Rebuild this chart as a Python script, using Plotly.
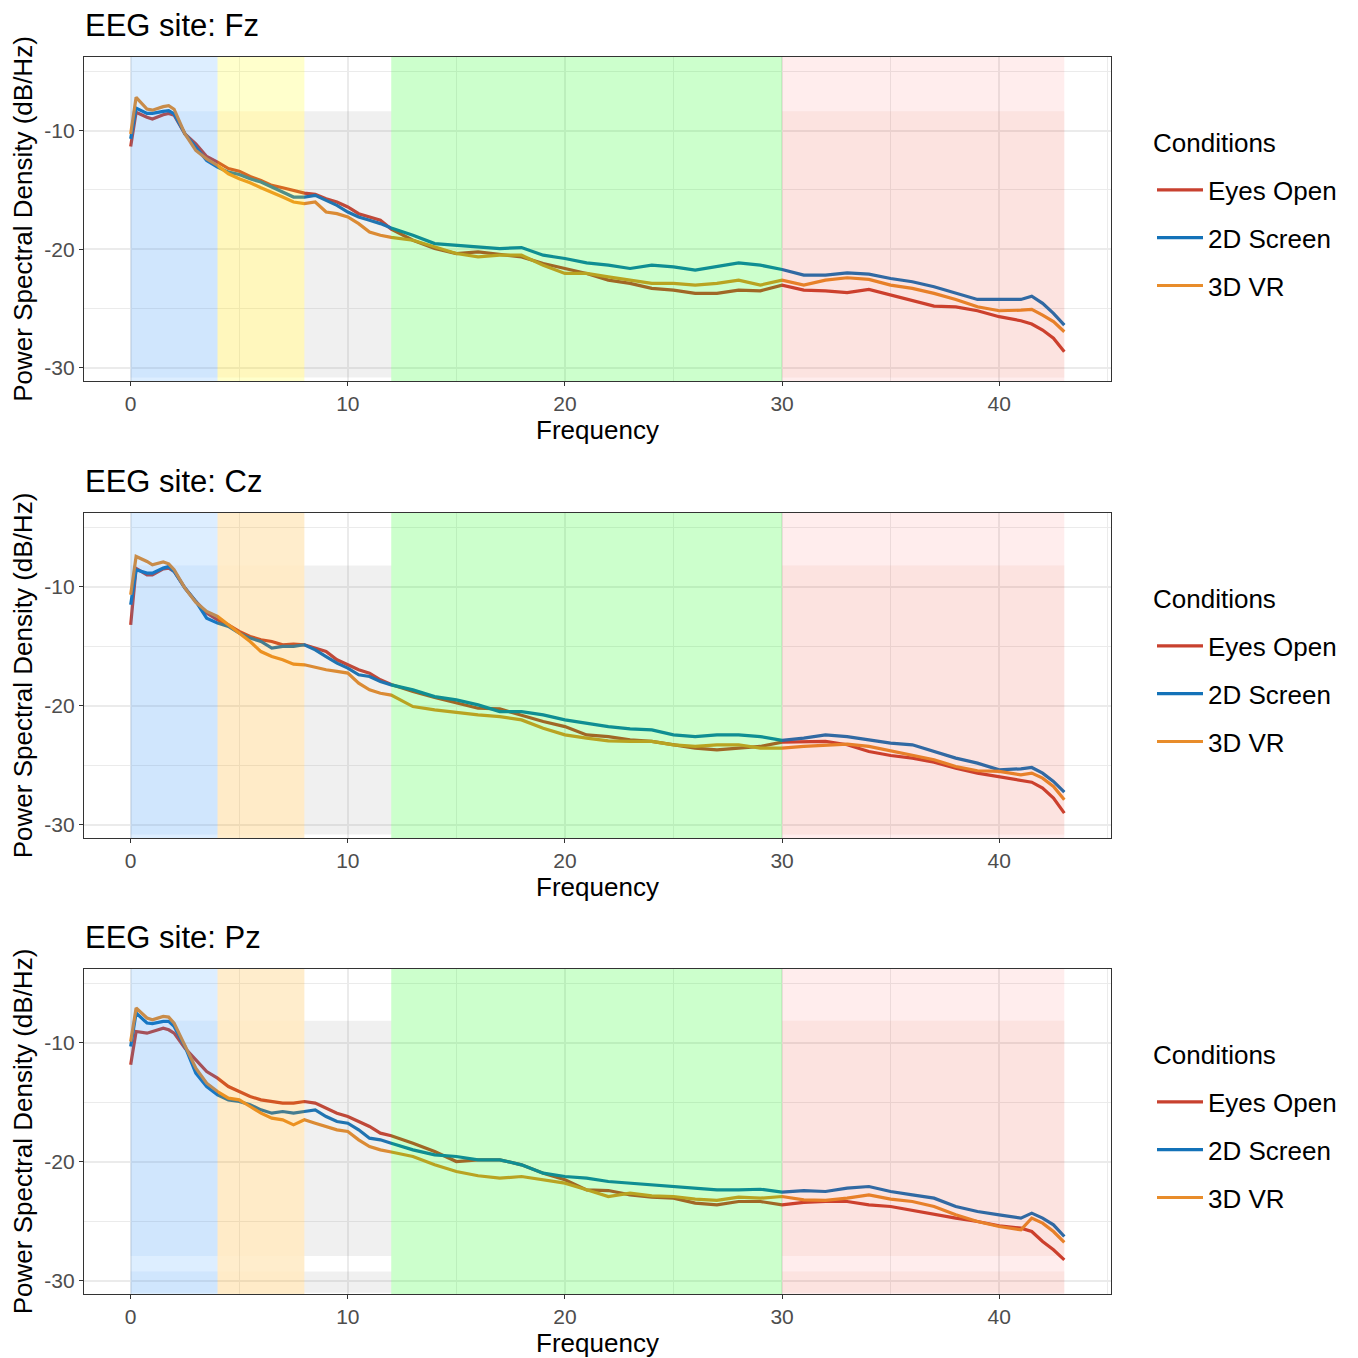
import plotly.graph_objects as go

# ---------------- data ----------------
FREQ = [0, 0.25, 0.75, 1, 1.5, 1.75, 2, 2.5, 3, 3.5, 4, 4.5, 5, 5.5, 6, 6.5, 7, 7.5, 8, 8.5,
        9, 9.5, 10, 10.5, 11, 11.5,
        12, 13, 14, 15, 16, 17, 18, 19, 20, 21, 22, 23, 24, 25, 26, 27, 28, 29, 30, 31,
        32, 33, 34, 35, 36, 37, 38, 39, 40, 41,
        41.5, 42, 42.5, 43]

CONDITIONS = ["Eyes Open", "2D Screen", "3D VR"]
SITES = ["Fz", "Cz", "Pz"]

FZ_EYES_OPEN = [-11.34, -8.46, -8.88, -9.02, -8.66, -8.55, -8.70, -10.28, -11.12, -12.18, -12.66, -13.20, -13.42,
                -13.87, -14.20, -14.62, -14.82, -15.04, -15.27, -15.38, -15.74, -16.02, -16.44, -17.00, -17.28, -17.56,
                -18.30, -19.24, -19.94, -20.36, -20.22, -20.42, -20.64, -21.20, -21.62, -22.04, -22.60, -22.88, -23.30,
                -23.44, -23.72, -23.72, -23.44, -23.50, -23.02, -23.44, -23.50, -23.66, -23.38, -23.86, -24.28, -24.79,
                -24.85, -25.18, -25.68, -26.02,
                -26.30, -26.81, -27.50, -28.63]
FZ_2D_SCREEN = [-10.70, -8.10, -8.55, -8.55, -8.38, -8.32, -8.60, -10.28, -11.40, -12.52, -13.08, -13.50, -13.70,
                -14.06, -14.34, -14.76, -15.18, -15.60, -15.60, -15.46, -15.88, -16.30, -16.86, -17.28, -17.56, -17.84,
                -18.20, -18.82, -19.52, -19.66, -19.80, -19.94, -19.86, -20.50, -20.78, -21.15, -21.34, -21.62, -21.34,
                -21.48, -21.76, -21.48, -21.15, -21.34, -21.70, -22.18, -22.18, -21.99, -22.10, -22.46, -22.74, -23.16,
                -23.72, -24.23, -24.23, -24.23,
                -23.95, -24.56, -25.40, -26.39]
FZ_3D_VR = [-10.28, -7.20, -8.18, -8.28, -7.98, -7.90, -8.20, -10.28, -11.68, -12.38, -12.94, -13.64, -14.06,
            -14.40, -14.82, -15.18, -15.60, -16.02, -16.16, -16.02, -16.86, -17.00, -17.28, -17.84, -18.54, -18.82,
            -19.00, -19.24, -19.80, -20.36, -20.64, -20.50, -20.50, -21.34, -22.04, -22.04, -22.32, -22.60, -22.88,
            -22.88, -23.02, -22.88, -22.60, -23.02, -22.60, -23.02, -22.60, -22.40, -22.54, -23.02, -23.30, -23.72,
            -24.23, -24.85, -25.18, -25.13,
            -25.07, -25.55, -26.10, -26.95]

CZ_EYES_OPEN = [-13.19, -8.45, -8.99, -8.99, -8.50, -8.43, -8.71, -10.11, -11.23, -12.21, -12.77, -13.19, -13.75,
                -14.17, -14.45, -14.59, -14.87, -14.81, -14.87, -15.15, -15.43, -16.13, -16.55, -16.97, -17.25, -17.81,
                -18.20, -18.80, -19.30, -19.78, -20.20, -20.26, -20.76, -21.32, -21.74, -22.44, -22.58, -22.85, -22.99,
                -23.27, -23.55, -23.69, -23.55, -23.41, -23.05, -23.05, -22.99, -23.27, -23.83, -24.17, -24.39, -24.73,
                -25.23, -25.65, -25.93, -26.21,
                -26.41, -26.91, -27.75, -29.01]
CZ_2D_SCREEN = [-11.51, -8.57, -8.85, -8.85, -8.43, -8.29, -8.71, -10.11, -11.23, -12.63, -13.05, -13.33, -13.89,
                -14.31, -14.59, -15.15, -15.01, -15.01, -14.87, -15.29, -15.86, -16.41, -16.83, -17.39, -17.53, -17.96,
                -18.24, -18.66, -19.22, -19.50, -19.92, -20.48, -20.48, -20.76, -21.18, -21.46, -21.74, -21.94, -22.02,
                -22.44, -22.58, -22.44, -22.44, -22.58, -22.90, -22.71, -22.44, -22.58, -22.86, -23.13, -23.27, -23.83,
                -24.39, -24.81, -25.37, -25.29,
                -25.18, -25.65, -26.35, -27.25]
CZ_3D_VR = [-10.67, -7.45, -7.87, -8.15, -7.91, -8.07, -8.57, -10.11, -11.30, -12.07, -12.49, -13.19, -13.89,
            -14.60, -15.44, -15.86, -16.13, -16.50, -16.55, -16.78, -16.97, -17.11, -17.25, -18.09, -18.66, -18.94,
            -19.10, -20.06, -20.34, -20.54, -20.76, -20.90, -21.18, -21.88, -22.44, -22.71, -22.94, -22.99, -22.99,
            -23.27, -23.41, -23.27, -23.27, -23.55, -23.55, -23.41, -23.33, -23.22, -23.41, -23.78, -24.11, -24.53,
            -25.09, -25.45, -25.51, -25.79,
            -25.65, -26.07, -26.77, -27.89]

PZ_EYES_OPEN = [-11.85, -9.05, -9.19, -9.05, -8.77, -8.91, -9.19, -10.45, -11.43, -12.41, -12.97, -13.67, -14.09,
                -14.51, -14.79, -14.93, -15.07, -15.07, -14.93, -15.07, -15.49, -15.91, -16.19, -16.61, -17.03, -17.59,
                -17.80, -18.43, -19.13, -19.97, -19.83, -19.83, -20.25, -20.95, -21.51, -22.35, -22.41, -22.77, -22.96,
                -23.05, -23.47, -23.61, -23.33, -23.33, -23.61, -23.41, -23.33, -23.33, -23.61, -23.75, -24.09, -24.45,
                -24.73, -25.01, -25.37, -25.57,
                -25.85, -26.69, -27.39, -28.23]
PZ_2D_SCREEN = [-10.31, -7.50, -8.34, -8.39, -8.20, -8.20, -8.62, -10.31, -12.55, -13.67, -14.37, -14.79, -14.93,
                -15.21, -15.63, -15.91, -15.77, -15.91, -15.77, -15.63, -16.19, -16.61, -16.75, -17.31, -18.01, -18.15,
                -18.43, -18.99, -19.41, -19.55, -19.83, -19.83, -20.25, -20.95, -21.23, -21.37, -21.65, -21.79, -21.93,
                -22.07, -22.21, -22.35, -22.35, -22.30, -22.55, -22.41, -22.49, -22.21, -22.07, -22.49, -22.77, -23.05,
                -23.75, -24.17, -24.45, -24.73,
                -24.31, -24.73, -25.29, -26.27]
PZ_3D_VR = [-9.90, -7.08, -7.92, -8.06, -7.78, -7.84, -8.34, -10.17, -12.13, -13.39, -14.09, -14.65, -14.79,
            -15.35, -15.91, -16.33, -16.47, -16.89, -16.47, -16.75, -17.03, -17.31, -17.45, -18.15, -18.71, -18.99,
            -19.17, -19.55, -20.25, -20.81, -21.17, -21.37, -21.23, -21.51, -21.79, -22.35, -22.91, -22.63, -22.85,
            -22.91, -23.13, -23.24, -22.96, -23.05, -22.91, -23.19, -23.24, -23.05, -22.77, -23.13, -23.33, -23.75,
            -24.45, -25.01, -25.43, -25.71,
            -24.73, -25.15, -25.85, -26.77]

# frequency bands (Hz)
BAND_LO = [0, 4, 8, 12, 30]
BAND_HI = [4, 8, 12, 30, 43]

X_TICKS = [0, 10, 20, 30, 40]
Y_TICKS = [-30, -20, -10]
Y_TICK_TEXT = ["-30", "-20", "-10"]

SERIES = {
    "Fz": [FZ_EYES_OPEN, FZ_2D_SCREEN, FZ_3D_VR],
    "Cz": [CZ_EYES_OPEN, CZ_2D_SCREEN, CZ_3D_VR],
    "Pz": [PZ_EYES_OPEN, PZ_2D_SCREEN, PZ_3D_VR],
}
for s in SERIES.values():
    for arr in s:
        assert len(arr) == len(FREQ), len(arr)

# ---------------- styles ----------------
OFF = 8                     # page body margin
W = 1358 - 2 * OFF          # figure width
H = 1358 - OFF              # figure height
LINE_COLORS = ["#C8412F", "#1372B8", "#E88C2A"]
FONT = "Liberation Sans, Arial, Helvetica, sans-serif"

# panel boxes in page pixels (top, bottom)
PANELS_PX = [(57, 381), (513, 838), (969, 1294)]
X_LEFT, X_RIGHT = 84, 1111

def px_x(p):
    return (p - OFF) / W

def px_y(p):
    return 1 - (p - OFF) / H

LAYER_A = {
    "Fz": ["rgba(30,144,255,0.15)", "rgba(255,255,0,0.20)", None, "rgba(0,255,0,0.20)", "rgba(255,0,0,0.07)"],
    "Cz": ["rgba(30,144,255,0.15)", "rgba(255,165,0,0.20)", None, "rgba(0,255,0,0.20)", "rgba(255,0,0,0.07)"],
    "Pz": ["rgba(30,144,255,0.15)", "rgba(255,165,0,0.20)", None, "rgba(0,255,0,0.20)", "rgba(255,0,0,0.07)"],
}
LAYER_B = {
    "Fz": ["rgba(60,140,230,0.08)", "rgba(255,140,0,0.07)", "rgba(128,128,128,0.12)", None, "rgba(220,120,80,0.08)"],
    "Cz": ["rgba(60,140,230,0.08)", "rgba(255,165,0,0.02)", "rgba(128,128,128,0.12)", None, "rgba(220,120,80,0.08)"],
    "Pz": ["rgba(60,140,230,0.08)", "rgba(255,165,0,0.02)", "rgba(128,128,128,0.12)", None, "rgba(220,120,80,0.08)"],
}
LAYER_B_Y = {
    "Fz": [(-30.8, -8.38)],
    "Cz": [(-30.8, -8.2)],
    "Pz": [(-27.9, -8.15), (-31.0, -29.22)],
}

fig = go.Figure()
shapes = []
annotations = []
layout = {}

for i, site in enumerate(SITES):
    n = "" if i == 0 else str(i + 1)
    xa, ya = "x" + n, "y" + n
    legend_name = "legend" + n
    top, bot = PANELS_PX[i]
    dy = i * 456

    for j, cond in enumerate(CONDITIONS):
        fig.add_trace(go.Scatter(
            x=FREQ, y=SERIES[site][j], mode="lines", name=cond,
            line=dict(color=LINE_COLORS[j], width=3.2),
            xaxis=xa, yaxis=ya, legend=legend_name,
            legendgroup=f"{site}_{j}", showlegend=True,
        ))

    # band shading (drawn above the lines, semi-transparent)
    for k in range(len(BAND_LO)):
        ca = LAYER_A[site][k]
        if ca:
            shapes.append(dict(type="rect", xref=xa, yref=ya + " domain", x0=BAND_LO[k], x1=BAND_HI[k],
                               y0=0, y1=1, fillcolor=ca, line=dict(width=0), layer="above"))
        cb = LAYER_B[site][k]
        if cb:
            for (y0, y1) in LAYER_B_Y[site]:
                shapes.append(dict(type="rect", xref=xa, yref=ya, x0=BAND_LO[k], x1=BAND_HI[k],
                                   y0=y0, y1=y1, fillcolor=cb, line=dict(width=0), layer="above"))

    layout["xaxis" + n] = dict(
        domain=[px_x(X_LEFT), px_x(X_RIGHT)], anchor=ya, range=[-2.15, 45.15],
        tickvals=X_TICKS, ticks="outside", ticklen=4, tickwidth=1.2, tickcolor="#333333",
        tickfont=dict(size=21, color="#4D4D4D", family=FONT),
        showgrid=True, gridcolor="#EBEBEB", gridwidth=1.8, zeroline=False,
        minor=dict(dtick=5, tick0=0, showgrid=True, gridcolor="#EBEBEB", gridwidth=1, ticks=""),
        showline=True, linecolor="#333333", linewidth=1.2, mirror=True,
        title=dict(text="Frequency", font=dict(size=26, color="black", family=FONT), standoff=5),
    )
    layout["yaxis" + n] = dict(
        domain=[px_y(bot), px_y(top)], anchor=xa, range=[-31.1, -3.8],
        tickvals=Y_TICKS, ticktext=Y_TICK_TEXT, ticks="outside", ticklen=4, tickwidth=1.2, tickcolor="#333333",
        tickfont=dict(size=21, color="#4D4D4D", family=FONT),
        showgrid=True, gridcolor="#EBEBEB", gridwidth=1.8, zeroline=False,
        minor=dict(dtick=5, tick0=0, showgrid=True, gridcolor="#EBEBEB", gridwidth=1, ticks=""),
        showline=True, linecolor="#333333", linewidth=1.2, mirror=True,
        title=dict(text="Power Spectral Density (dB/Hz)", font=dict(size=26, color="black", family=FONT),
                   standoff=6),
    )
    layout[legend_name] = dict(
        x=px_x(1152), xanchor="left", y=px_y(238 + dy), yanchor="middle",
        font=dict(size=26, color="black", family=FONT),
        traceorder="grouped", tracegroupgap=11, bgcolor="rgba(0,0,0,0)", borderwidth=0,
        itemwidth=46,
    )
    # legend heading
    annotations.append(dict(
        text="Conditions", xref="paper", yref="paper", x=px_x(1151), y=px_y(143 + dy),
        xanchor="left", yanchor="middle", showarrow=False,
        font=dict(size=26, color="black", family=FONT),
    ))
    # panel title
    annotations.append(dict(
        text=f"EEG site: {site}", xref="paper", yref="paper", x=px_x(X_LEFT) - 0.001, y=px_y(top - 32),
        xanchor="left", yanchor="middle", showarrow=False,
        font=dict(size=31, color="black", family=FONT),
    ))

fig.update_layout(
    width=W, height=H, margin=dict(l=0, r=0, t=0, b=0),
    paper_bgcolor="white", plot_bgcolor="white",
    font=dict(family=FONT, color="black"),
    shapes=shapes, annotations=annotations, **layout,
)

fig.write_html("out.html")
